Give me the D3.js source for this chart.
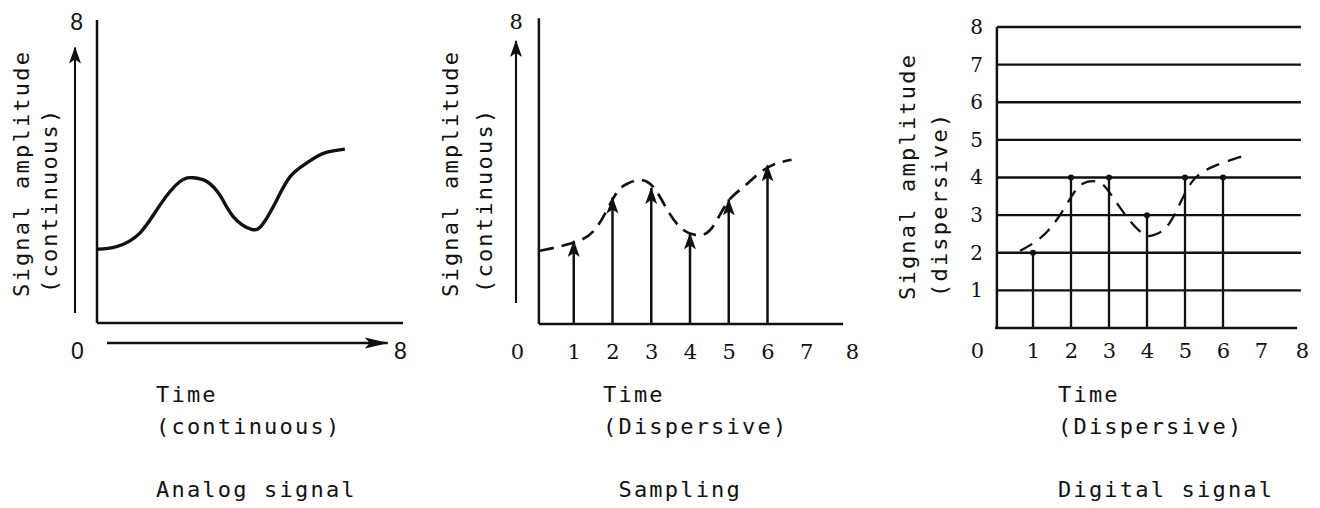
<!DOCTYPE html>
<html>
<head>
<meta charset="utf-8">
<script src="https://cdn.jsdelivr.net/npm/d3@7"></script>
<style>
  html, body { margin: 0; padding: 0; background: #fff; }
  svg { display: block; }
  .mono { font-family: "DejaVu Sans Mono", monospace; font-size: 22px; letter-spacing: 2.2px; white-space: pre; fill: #111; }
  .num { font-family: "DejaVu Serif", serif; font-size: 21px; fill: #111; }
  .sans { font-family: "Liberation Sans", Arial, sans-serif; font-size: 23px; fill: #111; }
</style>
</head>
<body>
<svg id="chart" width="1320" height="508"></svg>
<script>
// ---- data ----
var ticks = [0, 1, 2, 3, 4, 5, 6, 7, 8];
var levels = [1, 2, 3, 4, 5, 6, 7, 8];

// analog signal (continuous curve)
var analogTime = [0, 0.51, 1.12, 1.65, 2.17, 2.52, 2.87, 3.23, 3.56, 4.04, 4.35, 4.7, 5.05, 5.48, 5.92, 6.48];
var analogAmp  = [1.96, 2.03, 2.39, 3.14, 3.76, 3.86, 3.76, 3.37, 2.83, 2.49, 2.65, 3.27, 3.89, 4.25, 4.51, 4.62];

// sampling: dashed signal + sample arrows
var samplingCurveTime = [0.13, 0.99, 1.59, 2.06, 2.37, 2.67, 3.05, 3.47, 3.83, 4.13, 4.52, 4.95, 5.38, 5.98, 6.62];
var samplingCurveAmp  = [1.94, 2.15, 2.56, 3.4, 3.71, 3.81, 3.63, 2.93, 2.49, 2.36, 2.49, 3.2, 3.63, 4.13, 4.35];
var sampleTime = [1, 2, 3, 4, 5, 6];
var sampleAmp  = [2.2, 3.35, 3.6, 2.4, 3.3, 4.2];

// digital: dashed signal + quantised stems
var digitalCurveTime = [0.66, 1.18, 1.62, 2.01, 2.32, 2.72, 3.03, 3.47, 3.9, 4.17, 4.52, 4.87, 5.22, 5.74, 6.53];
var digitalCurveAmp  = [2.05, 2.38, 2.87, 3.49, 3.84, 3.88, 3.58, 2.95, 2.5, 2.47, 2.69, 3.31, 3.93, 4.29, 4.57];
var digitalTime = [1, 2, 3, 4, 5, 6];
var digitalAmp  = [2, 4, 4, 3, 4, 4];

var yLabels = [["Signal amplitude", "(continuous)"], ["Signal amplitude", "(continuous)"], ["Signal amplitude", "(dispersive)"]];
var captions = [["Time", "(continuous)", "Analog signal"], ["Time", "(Dispersive)", " Sampling"], ["Time", "(Dispersive)", "Digital signal"]];

function zip(a, b) { return a.map(function(v, i) { return [v, b[i]]; }); }

var svg = d3.select("#chart");
var ink = "#111";

var defs = svg.append("defs");
defs.append("marker")
    .attr("id", "head")
    .attr("viewBox", "0 -6 17 12")
    .attr("refX", 16).attr("refY", 0)
    .attr("markerWidth", 17).attr("markerHeight", 12)
    .attr("markerUnits", "userSpaceOnUse")
    .attr("orient", "auto")
    .append("path").attr("d", "M0,-6L17,0L0,6L4,0Z").attr("fill", ink);
defs.append("marker")
    .attr("id", "headWide")
    .attr("viewBox", "0 -6 24 12")
    .attr("refX", 23).attr("refY", 0)
    .attr("markerWidth", 24).attr("markerHeight", 12)
    .attr("markerUnits", "userSpaceOnUse")
    .attr("orient", "auto")
    .append("path").attr("d", "M0,-5.5L24,0L0,5.5L5,0Z").attr("fill", ink);

var curve = d3.line().curve(d3.curveNatural);

function seg(g, x1, y1, x2, y2, w) {
    return g.append("line").attr("x1", x1).attr("y1", y1).attr("x2", x2).attr("y2", y2)
        .attr("stroke", ink).attr("stroke-width", w || 2.2);
}

function vertLabels(g, lines, xs, ys) {
    lines.forEach(function(t, i) {
        g.append("text").attr("class", "mono")
            .attr("transform", "translate(" + xs[i] + "," + ys[i] + ") rotate(-90)")
            .text(t);
    });
}

function captionBlock(g, lines, x0) {
    var ys = [402, 434, 497];
    lines.forEach(function(t, i) {
        g.append("text").attr("class", "mono").attr("x", x0).attr("y", ys[i]).text(t);
    });
}

function tidy(axisG, cls) {
    axisG.select(".domain").remove();
    axisG.selectAll("text").attr("class", cls).attr("fill", null);
    axisG.attr("font-size", null).attr("font-family", null);
}

// ---------- panel 1 : analog ----------
(function() {
    var x = d3.scaleLinear().domain([0, 8]).range([97, 403]);
    var y = d3.scaleLinear().domain([0, 8]).range([323, 22]);
    var g = svg.append("g");

    seg(g, x(0), y(8) - 2, x(0), y(0), 2.5);
    seg(g, x(0), y(0), x(8), y(0), 2.5);

    g.append("path").datum(zip(analogTime, analogAmp))
        .attr("d", curve.x(function(d) { return x(d[0]); }).y(function(d) { return y(d[1]); }))
        .attr("fill", "none").attr("stroke", ink).attr("stroke-width", 3.4);

    // direction arrows beside the axes
    seg(g, x(0) - 22, y(0) - 10, x(0) - 22, y(7.32), 2.1).attr("marker-end", "url(#head)");
    seg(g, x(0.26), y(0) + 20, x(7.6), y(0) + 20, 2.7).attr("marker-end", "url(#headWide)");

    var ya = g.append("g").attr("transform", "translate(" + x(0) + ",0)")
        .call(d3.axisLeft(y).tickValues([8]).tickSize(0).tickPadding(14));
    tidy(ya, "sans");
    var xa = g.append("g").attr("transform", "translate(0," + y(0) + ")")
        .call(d3.axisBottom(x).tickValues([0, 8]).tickSize(0).tickPadding(20));
    tidy(xa, "sans");
    xa.selectAll("text").attr("dx", function(d) { return d === 0 ? -20 : -3; });

    vertLabels(g, yLabels[0], [29, 57], [297, 293]);
    captionBlock(g, captions[0], 156);
})();

// ---------- panel 2 : sampling ----------
(function() {
    var x = d3.scaleLinear().domain([0, 8]).range([535, 845]);
    var y = d3.scaleLinear().domain([0, 8]).range([324, 22]);
    var g = svg.append("g");

    seg(g, x(0.1), y(8.1), x(0.1), y(0), 2.5);
    seg(g, x(0.1), y(0), x(7.95), y(0), 2.5);

    g.append("path").datum(zip(samplingCurveTime, samplingCurveAmp))
        .attr("d", curve.x(function(d) { return x(d[0]); }).y(function(d) { return y(d[1]); }))
        .attr("fill", "none").attr("stroke", ink).attr("stroke-width", 2.7)
        .attr("stroke-dasharray", "14 8");

    g.selectAll(".sample").data(zip(sampleTime, sampleAmp)).enter()
        .append("line").attr("class", "sample")
        .attr("x1", function(d) { return x(d[0]); }).attr("y1", y(0))
        .attr("x2", function(d) { return x(d[0]); }).attr("y2", function(d) { return y(d[1]); })
        .attr("stroke", ink).attr("stroke-width", 2.5)
        .attr("marker-end", "url(#head)");

    seg(g, x(0) - 19, y(0) - 21, x(0) - 19, y(7.5), 2.1).attr("marker-end", "url(#head)");

    var ya = g.append("g").attr("transform", "translate(" + x(0.1) + ",0)")
        .call(d3.axisLeft(y).tickValues([8]).tickSize(0).tickPadding(16));
    tidy(ya, "num");
    var xa = g.append("g").attr("transform", "translate(0," + y(0) + ")")
        .call(d3.axisBottom(x).tickValues(ticks).tickSize(0).tickPadding(20));
    tidy(xa, "num");
    xa.selectAll("text").attr("dx", function(d) { return d === 0 ? -18 : (d === 8 ? 7 : 0); });

    vertLabels(g, yLabels[1], [458, 492], [297, 293]);
    captionBlock(g, captions[1], 603);
})();

// ---------- panel 3 : digital ----------
(function() {
    var x = d3.scaleLinear().domain([0, 8]).range([995, 1299]);
    var y = d3.scaleLinear().domain([0, 8]).range([328, 27]);
    var g = svg.append("g");

    g.selectAll(".level").data(levels).enter()
        .append("line").attr("class", "level")
        .attr("x1", x(0.05)).attr("x2", x(8.05))
        .attr("y1", function(d) { return y(d); }).attr("y2", function(d) { return y(d); })
        .attr("stroke", ink).attr("stroke-width", 2.3);
    seg(g, x(0.05), y(8), x(0.05), y(0), 2.5);
    seg(g, x(0), y(0), x(7.95), y(0), 2.5);

    g.selectAll(".stem").data(zip(digitalTime, digitalAmp)).enter()
        .append("line").attr("class", "stem")
        .attr("x1", function(d) { return x(d[0]); }).attr("y1", y(0))
        .attr("x2", function(d) { return x(d[0]); }).attr("y2", function(d) { return y(d[1]); })
        .attr("stroke", ink).attr("stroke-width", 2.3);
    g.selectAll(".dot").data(zip(digitalTime, digitalAmp)).enter()
        .append("circle").attr("class", "dot")
        .attr("cx", function(d) { return x(d[0]); }).attr("cy", function(d) { return y(d[1]); })
        .attr("r", 3).attr("fill", ink);

    g.append("path").datum(zip(digitalCurveTime, digitalCurveAmp))
        .attr("d", curve.x(function(d) { return x(d[0]); }).y(function(d) { return y(d[1]); }))
        .attr("fill", "none").attr("stroke", ink).attr("stroke-width", 2.3)
        .attr("stroke-dasharray", "14 9");

    var ya = g.append("g").attr("transform", "translate(" + x(0.05) + ",0)")
        .call(d3.axisLeft(y).tickValues(levels).tickSize(0).tickPadding(14));
    tidy(ya, "num");
    ya.selectAll("text").style("font-size", "20px");
    var xa = g.append("g").attr("transform", "translate(0," + y(0) + ")")
        .call(d3.axisBottom(x).tickValues(ticks).tickSize(0).tickPadding(15));
    tidy(xa, "num");
    xa.selectAll("text").attr("dx", function(d) { return d === 0 ? -18 : (d === 8 ? 3 : 0); });

    vertLabels(g, yLabels[2], [915, 947], [300, 297]);
    captionBlock(g, captions[2], 1058);
})();
</script>
</body>
</html>
